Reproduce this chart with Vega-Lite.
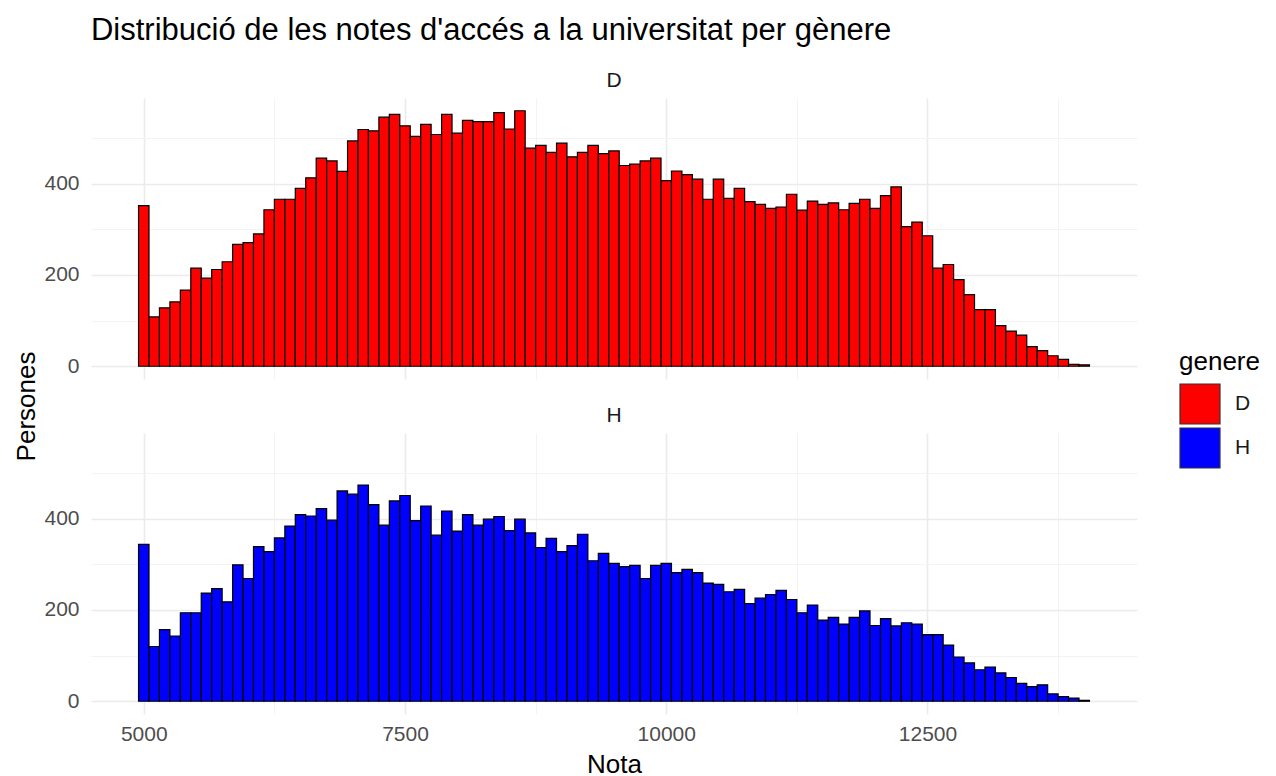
{
  "$schema": "https://vega.github.io/schema/vega-lite/v6.json",
  "background": "white",
  "padding": {"left": 13, "top": 14, "right": 5, "bottom": 5},
  "title": {"text": "Distribució de les notes d'accés a la universitat per gènere", "anchor": "start", "frame": "bounds", "dx": 77, "font": "Liberation Sans", "fontSize": 31, "fontWeight": "normal", "color": "black", "offset": 23},
  "datasets": {
    "notes": [
      {"genere":"D","inici":4950,"fi":5050,"persones":352},{"genere":"D","inici":5050,"fi":5150,"persones":108},{"genere":"D","inici":5150,"fi":5250,"persones":128},{"genere":"D","inici":5250,"fi":5350,"persones":141},{"genere":"D","inici":5350,"fi":5450,"persones":167},{"genere":"D","inici":5450,"fi":5550,"persones":215},{"genere":"D","inici":5550,"fi":5650,"persones":193},{"genere":"D","inici":5650,"fi":5750,"persones":212},{"genere":"D","inici":5750,"fi":5850,"persones":229},{"genere":"D","inici":5850,"fi":5950,"persones":267},
      {"genere":"D","inici":5950,"fi":6050,"persones":271},{"genere":"D","inici":6050,"fi":6150,"persones":290},{"genere":"D","inici":6150,"fi":6250,"persones":343},{"genere":"D","inici":6250,"fi":6350,"persones":366},{"genere":"D","inici":6350,"fi":6450,"persones":366},{"genere":"D","inici":6450,"fi":6550,"persones":390},{"genere":"D","inici":6550,"fi":6650,"persones":413},{"genere":"D","inici":6650,"fi":6750,"persones":456},{"genere":"D","inici":6750,"fi":6850,"persones":450},{"genere":"D","inici":6850,"fi":6950,"persones":427},
      {"genere":"D","inici":6950,"fi":7050,"persones":494},{"genere":"D","inici":7050,"fi":7150,"persones":519},{"genere":"D","inici":7150,"fi":7250,"persones":516},{"genere":"D","inici":7250,"fi":7350,"persones":546},{"genere":"D","inici":7350,"fi":7450,"persones":552},{"genere":"D","inici":7450,"fi":7550,"persones":527},{"genere":"D","inici":7550,"fi":7650,"persones":504},{"genere":"D","inici":7650,"fi":7750,"persones":530},{"genere":"D","inici":7750,"fi":7850,"persones":508},{"genere":"D","inici":7850,"fi":7950,"persones":552},
      {"genere":"D","inici":7950,"fi":8050,"persones":511},{"genere":"D","inici":8050,"fi":8150,"persones":539},{"genere":"D","inici":8150,"fi":8250,"persones":536},{"genere":"D","inici":8250,"fi":8350,"persones":536},{"genere":"D","inici":8350,"fi":8450,"persones":556},{"genere":"D","inici":8450,"fi":8550,"persones":520},{"genere":"D","inici":8550,"fi":8650,"persones":560},{"genere":"D","inici":8650,"fi":8750,"persones":478},{"genere":"D","inici":8750,"fi":8850,"persones":484},{"genere":"D","inici":8850,"fi":8950,"persones":469},
      {"genere":"D","inici":8950,"fi":9050,"persones":489},{"genere":"D","inici":9050,"fi":9150,"persones":459},{"genere":"D","inici":9150,"fi":9250,"persones":469},{"genere":"D","inici":9250,"fi":9350,"persones":484},{"genere":"D","inici":9350,"fi":9450,"persones":466},{"genere":"D","inici":9450,"fi":9550,"persones":472},{"genere":"D","inici":9550,"fi":9650,"persones":440},{"genere":"D","inici":9650,"fi":9750,"persones":443},{"genere":"D","inici":9750,"fi":9850,"persones":450},{"genere":"D","inici":9850,"fi":9950,"persones":456},
      {"genere":"D","inici":9950,"fi":10050,"persones":407},{"genere":"D","inici":10050,"fi":10150,"persones":428},{"genere":"D","inici":10150,"fi":10250,"persones":420},{"genere":"D","inici":10250,"fi":10350,"persones":410},{"genere":"D","inici":10350,"fi":10450,"persones":366},{"genere":"D","inici":10450,"fi":10550,"persones":410},{"genere":"D","inici":10550,"fi":10650,"persones":368},{"genere":"D","inici":10650,"fi":10750,"persones":390},{"genere":"D","inici":10750,"fi":10850,"persones":361},{"genere":"D","inici":10850,"fi":10950,"persones":355},
      {"genere":"D","inici":10950,"fi":11050,"persones":346},{"genere":"D","inici":11050,"fi":11150,"persones":349},{"genere":"D","inici":11150,"fi":11250,"persones":377},{"genere":"D","inici":11250,"fi":11350,"persones":342},{"genere":"D","inici":11350,"fi":11450,"persones":362},{"genere":"D","inici":11450,"fi":11550,"persones":355},{"genere":"D","inici":11550,"fi":11650,"persones":358},{"genere":"D","inici":11650,"fi":11750,"persones":343},{"genere":"D","inici":11750,"fi":11850,"persones":357},{"genere":"D","inici":11850,"fi":11950,"persones":366},
      {"genere":"D","inici":11950,"fi":12050,"persones":346},{"genere":"D","inici":12050,"fi":12150,"persones":374},{"genere":"D","inici":12150,"fi":12250,"persones":393},{"genere":"D","inici":12250,"fi":12350,"persones":306},{"genere":"D","inici":12350,"fi":12450,"persones":316},{"genere":"D","inici":12450,"fi":12550,"persones":286},{"genere":"D","inici":12550,"fi":12650,"persones":215},{"genere":"D","inici":12650,"fi":12750,"persones":223},{"genere":"D","inici":12750,"fi":12850,"persones":190},{"genere":"D","inici":12850,"fi":12950,"persones":157},
      {"genere":"D","inici":12950,"fi":13050,"persones":124},{"genere":"D","inici":13050,"fi":13150,"persones":124},{"genere":"D","inici":13150,"fi":13250,"persones":89},{"genere":"D","inici":13250,"fi":13350,"persones":77},{"genere":"D","inici":13350,"fi":13450,"persones":68},{"genere":"D","inici":13450,"fi":13550,"persones":43},{"genere":"D","inici":13550,"fi":13650,"persones":34},{"genere":"D","inici":13650,"fi":13750,"persones":23},{"genere":"D","inici":13750,"fi":13850,"persones":15},{"genere":"D","inici":13850,"fi":13950,"persones":4},{"genere":"D","inici":13950,"fi":14050,"persones":3},
      {"genere":"H","inici":4950,"fi":5050,"persones":344},{"genere":"H","inici":5050,"fi":5150,"persones":120},{"genere":"H","inici":5150,"fi":5250,"persones":157},{"genere":"H","inici":5250,"fi":5350,"persones":143},{"genere":"H","inici":5350,"fi":5450,"persones":194},{"genere":"H","inici":5450,"fi":5550,"persones":194},{"genere":"H","inici":5550,"fi":5650,"persones":237},{"genere":"H","inici":5650,"fi":5750,"persones":247},{"genere":"H","inici":5750,"fi":5850,"persones":218},{"genere":"H","inici":5850,"fi":5950,"persones":299},
      {"genere":"H","inici":5950,"fi":6050,"persones":269},{"genere":"H","inici":6050,"fi":6150,"persones":339},{"genere":"H","inici":6150,"fi":6250,"persones":328},{"genere":"H","inici":6250,"fi":6350,"persones":358},{"genere":"H","inici":6350,"fi":6450,"persones":384},{"genere":"H","inici":6450,"fi":6550,"persones":409},{"genere":"H","inici":6550,"fi":6650,"persones":406},{"genere":"H","inici":6650,"fi":6750,"persones":422},{"genere":"H","inici":6750,"fi":6850,"persones":397},{"genere":"H","inici":6850,"fi":6950,"persones":461},
      {"genere":"H","inici":6950,"fi":7050,"persones":454},{"genere":"H","inici":7050,"fi":7150,"persones":474},{"genere":"H","inici":7150,"fi":7250,"persones":431},{"genere":"H","inici":7250,"fi":7350,"persones":386},{"genere":"H","inici":7350,"fi":7450,"persones":439},{"genere":"H","inici":7450,"fi":7550,"persones":451},{"genere":"H","inici":7550,"fi":7650,"persones":396},{"genere":"H","inici":7650,"fi":7750,"persones":428},{"genere":"H","inici":7750,"fi":7850,"persones":364},{"genere":"H","inici":7850,"fi":7950,"persones":417},
      {"genere":"H","inici":7950,"fi":8050,"persones":373},{"genere":"H","inici":8050,"fi":8150,"persones":409},{"genere":"H","inici":8150,"fi":8250,"persones":386},{"genere":"H","inici":8250,"fi":8350,"persones":399},{"genere":"H","inici":8350,"fi":8450,"persones":405},{"genere":"H","inici":8450,"fi":8550,"persones":374},{"genere":"H","inici":8550,"fi":8650,"persones":399},{"genere":"H","inici":8650,"fi":8750,"persones":369},{"genere":"H","inici":8750,"fi":8850,"persones":337},{"genere":"H","inici":8850,"fi":8950,"persones":357},
      {"genere":"H","inici":8950,"fi":9050,"persones":328},{"genere":"H","inici":9050,"fi":9150,"persones":341},{"genere":"H","inici":9150,"fi":9250,"persones":366},{"genere":"H","inici":9250,"fi":9350,"persones":308},{"genere":"H","inici":9350,"fi":9450,"persones":324},{"genere":"H","inici":9450,"fi":9550,"persones":302},{"genere":"H","inici":9550,"fi":9650,"persones":295},{"genere":"H","inici":9650,"fi":9750,"persones":298},{"genere":"H","inici":9750,"fi":9850,"persones":269},{"genere":"H","inici":9850,"fi":9950,"persones":298},
      {"genere":"H","inici":9950,"fi":10050,"persones":302},{"genere":"H","inici":10050,"fi":10150,"persones":282},{"genere":"H","inici":10150,"fi":10250,"persones":289},{"genere":"H","inici":10250,"fi":10350,"persones":282},{"genere":"H","inici":10350,"fi":10450,"persones":259},{"genere":"H","inici":10450,"fi":10550,"persones":256},{"genere":"H","inici":10550,"fi":10650,"persones":240},{"genere":"H","inici":10650,"fi":10750,"persones":245},{"genere":"H","inici":10750,"fi":10850,"persones":214},{"genere":"H","inici":10850,"fi":10950,"persones":226},
      {"genere":"H","inici":10950,"fi":11050,"persones":234},{"genere":"H","inici":11050,"fi":11150,"persones":243},{"genere":"H","inici":11150,"fi":11250,"persones":223},{"genere":"H","inici":11250,"fi":11350,"persones":194},{"genere":"H","inici":11350,"fi":11450,"persones":211},{"genere":"H","inici":11450,"fi":11550,"persones":178},{"genere":"H","inici":11550,"fi":11650,"persones":184},{"genere":"H","inici":11650,"fi":11750,"persones":169},{"genere":"H","inici":11750,"fi":11850,"persones":184},{"genere":"H","inici":11850,"fi":11950,"persones":198},
      {"genere":"H","inici":11950,"fi":12050,"persones":166},{"genere":"H","inici":12050,"fi":12150,"persones":181},{"genere":"H","inici":12150,"fi":12250,"persones":165},{"genere":"H","inici":12250,"fi":12350,"persones":172},{"genere":"H","inici":12350,"fi":12450,"persones":169},{"genere":"H","inici":12450,"fi":12550,"persones":146},{"genere":"H","inici":12550,"fi":12650,"persones":146},{"genere":"H","inici":12650,"fi":12750,"persones":123},{"genere":"H","inici":12750,"fi":12850,"persones":97},{"genere":"H","inici":12850,"fi":12950,"persones":84},
      {"genere":"H","inici":12950,"fi":13050,"persones":69},{"genere":"H","inici":13050,"fi":13150,"persones":75},{"genere":"H","inici":13150,"fi":13250,"persones":62},{"genere":"H","inici":13250,"fi":13350,"persones":52},{"genere":"H","inici":13350,"fi":13450,"persones":39},{"genere":"H","inici":13450,"fi":13550,"persones":32},{"genere":"H","inici":13550,"fi":13650,"persones":36},{"genere":"H","inici":13650,"fi":13750,"persones":16},{"genere":"H","inici":13750,"fi":13850,"persones":10},{"genere":"H","inici":13850,"fi":13950,"persones":7},{"genere":"H","inici":13950,"fi":14050,"persones":2}
    ]
  },
  "data": {"name": "notes"},
  "config": {
    "font": "Liberation Sans",
    "view": {"stroke": null},
    "axis": {"domain": false, "ticks": false, "labelFont": "Liberation Sans", "labelFontSize": 21, "labelColor": "#4d4d4d", "titleFont": "Liberation Sans", "titleFontSize": 26, "titleFontWeight": "normal", "titleColor": "black"},
    "legend": {"titleFont": "Liberation Sans", "labelFont": "Liberation Sans"}
  },
  "bounds": "flush",
  "spacing": 54,
  "resolve": {"scale": {"color": "shared", "x": "shared", "y": "shared"}},
  "vconcat": [
    {
      "width": 1046,
      "height": 281,
      "title": {"text": "D", "font": "Liberation Sans", "fontSize": 21, "fontWeight": "normal", "color": "#1a1a1a", "anchor": "middle", "offset": 7.5},
      "transform": [{"filter": "datum.genere === 'D'"}],
      "mark": {"type": "bar", "stroke": "black", "strokeWidth": 1.2},
      "encoding": {
        "x": {"field": "inici", "type": "quantitative", "scale": {"domain": [4495, 14505], "nice": false, "zero": false},
              "axis": {"title": null, "labels": false, "values": [5000, 6250, 7500, 8750, 10000, 11250, 12500, 13750],
                       "gridColor": {"condition": {"test": "datum.value % 2500 !== 0", "value": "#f3f3f3"}, "value": "#ebebeb"},
                       "gridWidth": {"condition": {"test": "datum.value % 2500 !== 0", "value": 1}, "value": 1.6}}},
        "x2": {"field": "fi"},
        "y": {"field": "persones", "type": "quantitative", "scale": {"domain": [-28, 588], "nice": false, "zero": false},
              "axis": {"title": "Persones", "titleY": 308, "labelPadding": 12, "values": [0, 100, 200, 300, 400, 500],
                       "labelExpr": "datum.value % 200 === 0 ? datum.label : ''",
                       "gridColor": {"condition": {"test": "datum.value % 200 !== 0", "value": "#f3f3f3"}, "value": "#ebebeb"},
                       "gridWidth": {"condition": {"test": "datum.value % 200 !== 0", "value": 1}, "value": 1.6}}},
        "y2": {"datum": 0},
        "color": {"field": "genere", "type": "nominal", "scale": {"domain": ["D", "H"], "range": ["#ff0000", "#0000ff"]},
                  "legend": {"title": "genere", "orient": "none", "legendX": 1088, "legendY": 251, "symbolType": "square", "symbolSize": 1600, "symbolStrokeColor": "#333333", "symbolStrokeWidth": 1, "symbolOpacity": 1, "labelFontSize": 21, "labelColor": "#1a1a1a", "labelOffset": 14, "titleFontSize": 26, "titleFontWeight": "normal", "titleColor": "black", "titlePadding": 8, "rowPadding": -2,
                             "encode": {"symbols": {"update": {"stroke": {"value": "#333333"}, "strokeWidth": {"value": 1.2}}}}}}
      }
    },
    {
      "width": 1046,
      "height": 281,
      "title": {"text": "H", "font": "Liberation Sans", "fontSize": 21, "fontWeight": "normal", "color": "#1a1a1a", "anchor": "middle", "offset": 7.5},
      "transform": [{"filter": "datum.genere === 'H'"}],
      "mark": {"type": "bar", "stroke": "black", "strokeWidth": 1.2},
      "encoding": {
        "x": {"field": "inici", "type": "quantitative", "scale": {"domain": [4495, 14505], "nice": false, "zero": false},
              "axis": {"title": "Nota", "format": "d", "labelPadding": 9, "titlePadding": 7, "values": [5000, 6250, 7500, 8750, 10000, 11250, 12500, 13750],
                       "labelExpr": "datum.value % 2500 === 0 ? datum.label : ''",
                       "gridColor": {"condition": {"test": "datum.value % 2500 !== 0", "value": "#f3f3f3"}, "value": "#ebebeb"},
                       "gridWidth": {"condition": {"test": "datum.value % 2500 !== 0", "value": 1}, "value": 1.6}}},
        "x2": {"field": "fi"},
        "y": {"field": "persones", "type": "quantitative", "scale": {"domain": [-28, 588], "nice": false, "zero": false},
              "axis": {"title": null, "labelPadding": 12, "values": [0, 100, 200, 300, 400, 500],
                       "labelExpr": "datum.value % 200 === 0 ? datum.label : ''",
                       "gridColor": {"condition": {"test": "datum.value % 200 !== 0", "value": "#f3f3f3"}, "value": "#ebebeb"},
                       "gridWidth": {"condition": {"test": "datum.value % 200 !== 0", "value": 1}, "value": 1.6}}},
        "y2": {"datum": 0},
        "color": {"field": "genere", "type": "nominal", "scale": {"domain": ["D", "H"], "range": ["#ff0000", "#0000ff"]},
                  "legend": {"title": "genere", "orient": "none", "legendX": 1088, "legendY": 251, "symbolType": "square", "symbolSize": 1600, "symbolStrokeColor": "#333333", "symbolStrokeWidth": 1, "symbolOpacity": 1, "labelFontSize": 21, "labelColor": "#1a1a1a", "labelOffset": 14, "titleFontSize": 26, "titleFontWeight": "normal", "titleColor": "black", "titlePadding": 8, "rowPadding": -2,
                             "encode": {"symbols": {"update": {"stroke": {"value": "#333333"}, "strokeWidth": {"value": 1.2}}}}}}
      }
    }
  ]
}
